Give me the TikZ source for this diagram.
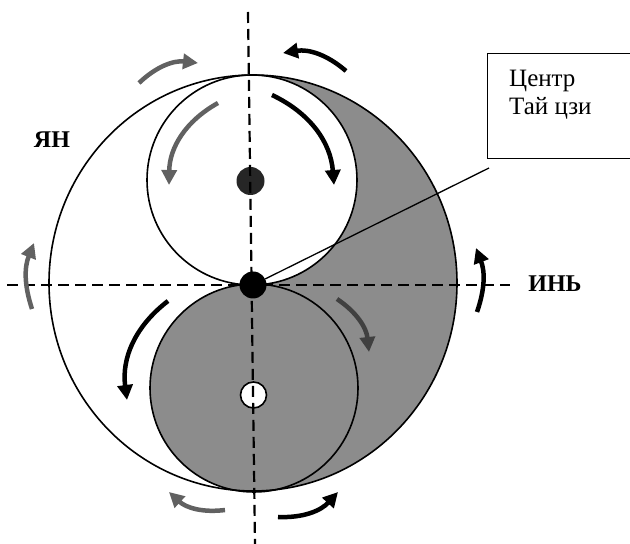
\documentclass[tikz,border=0pt]{standalone}
\usepackage{fontspec}
\setmainfont{Liberation Serif}
\usetikzlibrary{arrows.meta}
\definecolor{shadegray}{gray}{0.55}
\definecolor{arrowgray}{gray}{0.38}
\definecolor{darkarrow}{gray}{0.25}
\definecolor{dotgray}{gray}{0.15}
\begin{document}
\begin{tikzpicture}[x=1pt,y=1pt,
  outline/.style={line width=1.6pt},
  axisline/.style={line width=2.2pt, dash pattern=on 11pt off 6pt},
  blkarrow/.style={line width=4.5pt, -{Triangle[length=15pt,width=15pt]}},
  gryarrow/.style={blkarrow, draw=arrowgray},
  dkarrow/.style={blkarrow, draw=darkarrow},
  lbl/.style={font=\fontsize{24}{28}\selectfont\bfseries},
  boxtxt/.style={font=\fontsize{25}{30}\selectfont, anchor=base west, inner sep=0pt},
  dot/.style={circle, inner sep=0pt, minimum size=#1}]
\useasboundingbox (0,0) rectangle (630,544);
% shaded regions
\fill[shadegray] (253,469) arc[start angle=90, end angle=-90, x radius=204, y radius=208]
  -- (253,259) -- (252,259) arc[start angle=-90, end angle=90, radius=105] -- cycle;
\fill[shadegray] (254,156) circle[radius=104];
% outlines
\draw[outline] (253,261) ellipse[x radius=204, y radius=208];
\draw[outline] (252,364) circle[radius=105];
\draw[outline] (254,156) circle[radius=104];
% dots
\node[dot=28pt, fill=dotgray] (udot) at (250.5,363) {};
\node[dot=26pt, draw, outline, fill=white] (ldot) at (253.5,149) {};
% axes
\coordinate (vtop) at (248,532);
\coordinate (vbot) at (255,0);
\coordinate (hleft) at (7,259);
\coordinate (hright) at (510,259);
\draw[axisline] (vtop) -- (vbot);
\draw[axisline] (hleft) -- (hright);
\node[dot=27pt, fill=black] (cdot) at (253,259) {};
% pointer and box
\node[draw, line width=1.3pt, anchor=north west, minimum width=170pt, minimum height=105pt] (box) at (487,491) {};
\coordinate (ptr) at (489,376);
\draw[line width=1.3pt] (cdot) -- (ptr);
\node[boxtxt] (t1) at (509,457) {Центр};
\node[boxtxt] (t2) at (509,429) {Тай цзи};
% labels
\node[lbl] (yang) at (52,404) {ЯН};
\node[lbl] (yin) at (555,260) {ИНЬ};
% arrows
\draw[gryarrow] (139,461) to[bend left=25] (198,481);
\draw[blkarrow] (346,473) to[bend right=25] (283,491);
\draw[gryarrow] (218,441) to[bend right=30] (169,359);
\draw[blkarrow] (272,449) to[bend left=30] (334,359);
\draw[gryarrow] (32,235) to[bend left=20] (34,301);
\draw[blkarrow] (477,232) to[bend right=20] (476,296);
\draw[blkarrow] (168,243) to[bend right=30] (127,144);
\draw[dkarrow] (337,245) to[bend left=25] (369,192);
\draw[gryarrow] (225,34) to[bend left=25] (169,52);
\draw[blkarrow] (278,27) to[bend right=25] (338,52);
\end{tikzpicture}
\end{document}
